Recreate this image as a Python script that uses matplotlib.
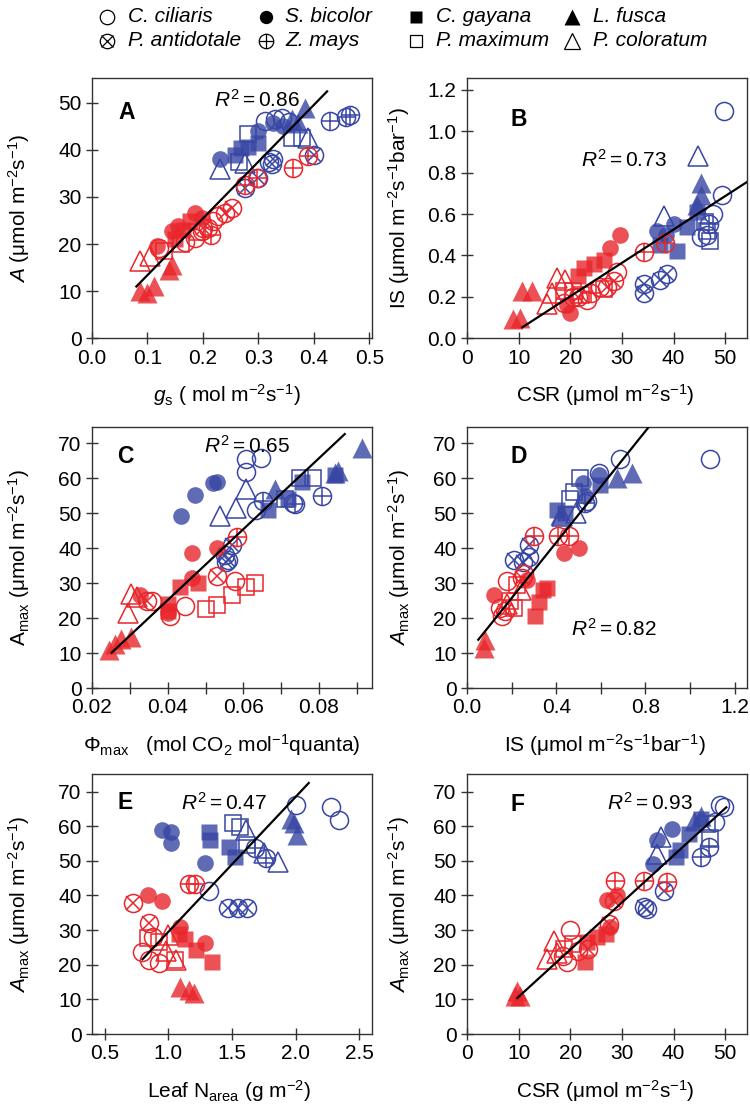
import numpy as np
import matplotlib
matplotlib.use("Agg")
import matplotlib.pyplot as plt

plt.rcParams['font.family'] = ['Liberation Sans', 'DejaVu Sans']
plt.rcParams['mathtext.fontset'] = 'custom'
plt.rcParams['mathtext.rm'] = 'Liberation Sans'
plt.rcParams['mathtext.it'] = 'Liberation Sans:italic'
plt.rcParams['mathtext.bf'] = 'Liberation Sans:bold'

RED = '#E8262B'
BLUE = '#3846A4'

# species codes and legend names
species = ['Cc', 'Sb', 'Cg', 'Lf', 'Pa', 'Zm', 'Pm', 'Pc']
names = {'Cc': 'C. ciliaris', 'Sb': 'S. bicolor', 'Cg': 'C. gayana', 'Lf': 'L. fusca',
         'Pa': 'P. antidotale', 'Zm': 'Z. mays', 'Pm': 'P. maximum', 'Pc': 'P. coloratum'}

# (species, condition r/b, x, y)
A_pts = [
    ('Lf','r',0.087,10.0),('Lf','r',0.099,9.7),('Lf','r',0.111,11.1),('Lf','r',0.138,14.6),('Lf','r',0.144,15.5),
    ('Pc','r',0.087,16.5),('Pc','r',0.105,17.5),
    ('Sb','r',0.118,19.5),('Sb','r',0.145,22.7),('Sb','r',0.155,23.8),('Sb','r',0.186,26.5),('Sb','r',0.198,25.6),
    ('Cg','r',0.150,21.0),('Cg','r',0.165,23.0),('Cg','r',0.176,24.8),
    ('Pm','r',0.130,18.5),('Pm','r',0.160,20.0),('Pm','r',0.190,22.5),
    ('Cc','r',0.120,19.2),('Cc','r',0.168,20.5),('Cc','r',0.186,21.3),('Cc','r',0.198,22.7),('Cc','r',0.210,23.5),
    ('Cc','r',0.219,24.9),('Cc','r',0.228,25.9),
    ('Pa','r',0.200,23.5),('Pa','r',0.240,26.6),('Pa','r',0.252,27.7),
    ('Zm','r',0.215,22.0),('Zm','r',0.276,32.5),('Zm','r',0.297,34.1),('Zm','r',0.363,36.2),('Zm','r',0.390,38.7),
    ('Sb','b',0.231,38.0),('Sb','b',0.300,44.0),('Sb','b',0.327,45.7),('Sb','b',0.345,45.0),
    ('Pc','b',0.231,36.0),('Pc','b',0.276,37.3),('Pc','b',0.390,42.6),
    ('Cg','b',0.258,39.0),('Cg','b',0.268,40.3),('Cg','b',0.282,40.6),('Cg','b',0.300,41.5),
    ('Pm','b',0.282,43.3),('Pm','b',0.360,42.6),('Pm','b',0.378,42.6),('Pm','b',0.265,37.5),
    ('Cc','b',0.312,46.2),('Cc','b',0.330,46.5),('Cc','b',0.342,46.8),('Cc','b',0.355,46.0),('Cc','b',0.320,37.5),
    ('Lf','b',0.384,48.9),('Lf','b',0.372,45.7),('Lf','b',0.360,46.5),
    ('Pa','b',0.276,32.0),('Pa','b',0.300,34.0),('Pa','b',0.327,38.0),('Pa','b',0.324,36.9),('Pa','b',0.400,39.0),
    ('Zm','b',0.429,46.2),('Zm','b',0.458,47.0),('Zm','b',0.465,47.5),
]

B_pts = [
    ('Lf','r',10.6,0.227),('Lf','r',12.6,0.227),('Lf','r',9.0,0.095),('Lf','r',10.3,0.10),
    ('Pc','r',15.5,0.165),('Pc','r',17.4,0.29),('Pc','r',19.0,0.28),('Pc','r',16.5,0.22),
    ('Sb','r',29.7,0.50),('Sb','r',27.7,0.435),('Sb','r',20.0,0.122),('Sb','r',19.3,0.16),
    ('Cg','r',22.6,0.34),('Cg','r',24.5,0.36),('Cg','r',26.5,0.38),('Cg','r',21.5,0.30),
    ('Pm','r',18.7,0.227),('Pm','r',20.6,0.227),('Pm','r',26.5,0.24),('Pm','r',22.0,0.21),
    ('Cc','r',18.7,0.17),('Cc','r',23.2,0.186),('Cc','r',25.8,0.25),('Cc','r',29.0,0.32),('Cc','r',20.5,0.20),
    ('Pa','r',27.1,0.25),('Pa','r',28.4,0.275),('Pa','r',21.5,0.20),
    ('Zm','r',34.2,0.415),('Zm','r',38.4,0.46),('Zm','r',24.0,0.22),
    ('Cc','b',49.7,1.097),('Cc','b',49.4,0.69),('Cc','b',47.7,0.60),('Cc','b',45.2,0.49),('Cc','b',46.5,0.50),
    ('Pc','b',44.8,0.88),('Pc','b',38.1,0.59),
    ('Lf','b',45.2,0.75),('Lf','b',45.2,0.69),('Lf','b',44.5,0.645),
    ('Cg','b',44.5,0.61),('Cg','b',40.6,0.42),('Cg','b',37.4,0.45),('Cg','b',42.5,0.54),
    ('Sb','b',36.8,0.52),('Sb','b',40.0,0.55),('Sb','b',38.5,0.50),
    ('Pm','b',46.5,0.52),('Pm','b',47.1,0.47),('Pm','b',46.0,0.56),
    ('Pa','b',34.2,0.26),('Pa','b',34.2,0.22),('Pa','b',37.4,0.28),('Pa','b',38.7,0.31),
    ('Zm','b',46.8,0.55),
]

C_pts = [
    ('Lf','r',0.0245,11.0),('Lf','r',0.0276,14.0),('Lf','r',0.0302,14.5),('Lf','r',0.0262,12.5),
    ('Pc','r',0.0302,27.0),('Pc','r',0.0294,21.3),('Pc','r',0.0320,26.0),
    ('Sb','r',0.0327,26.5),('Sb','r',0.0402,21.3),('Sb','r',0.0464,38.5),('Sb','r',0.0530,40.0),('Sb','r',0.0464,31.5),
    ('Pa','r',0.0345,25.0),('Pa','r',0.0530,32.0),
    ('Cc','r',0.0358,25.0),('Cc','r',0.0446,23.5),('Cc','r',0.0579,30.5),('Cc','r',0.0406,20.5),
    ('Cg','r',0.0400,24.0),('Cg','r',0.0432,28.8),('Cg','r',0.0480,30.0),('Cg','r',0.0400,22.0),
    ('Pm','r',0.0502,22.5),('Pm','r',0.0530,23.7),('Pm','r',0.0569,26.5),('Pm','r',0.0608,28.8),('Pm','r',0.0630,30.0),
    ('Zm','r',0.0584,43.2),
    ('Pa','b',0.0551,38.0),('Pa','b',0.0560,36.6),('Pa','b',0.0569,41.0),('Pa','b',0.0555,36.0),
    ('Sb','b',0.0436,49.2),('Sb','b',0.0472,55.3),('Sb','b',0.0520,58.5),('Sb','b',0.0530,59.0),
    ('Pc','b',0.0537,49.3),('Pc','b',0.0581,51.5),('Pc','b',0.0607,57.0),
    ('Cc','b',0.0606,65.5),('Cc','b',0.0606,61.8),('Cc','b',0.0646,65.8),('Cc','b',0.0633,50.8),('Cc','b',0.0730,53.0),
    ('Zm','b',0.0652,53.5),('Zm','b',0.0807,54.8),('Zm','b',0.0737,52.5),
    ('Cg','b',0.0666,51.0),('Cg','b',0.0719,54.0),('Cg','b',0.0755,59.0),('Cg','b',0.0843,61.0),
    ('Pm','b',0.0750,60.0),('Pm','b',0.0785,60.0),('Pm','b',0.0710,54.0),
    ('Lf','b',0.0684,57.0),('Lf','b',0.0843,61.5),('Lf','b',0.0914,68.5),('Lf','b',0.0850,62.0),
]

D_pts = [
    ('Lf','r',0.082,13.8),('Lf','r',0.075,11.5),
    ('Sb','r',0.433,38.5),('Sb','r',0.500,40.0),('Sb','r',0.119,26.5),('Sb','r',0.269,30.8),
    ('Cc','r',0.179,30.5),('Cc','r',0.157,20.5),('Cc','r',0.254,32.5),('Cc','r',0.150,23.0),
    ('Cg','r',0.358,28.5),('Cg','r',0.321,24.5),('Cg','r',0.306,20.5),('Cg','r',0.340,28.0),
    ('Pm','r',0.224,29.5),('Pm','r',0.194,25.0),('Pm','r',0.209,23.0),
    ('Pc','r',0.240,28.0),('Pc','r',0.180,24.0),
    ('Pa','r',0.246,31.5),('Pa','r',0.170,22.0),
    ('Zm','r',0.299,43.5),('Zm','r',0.410,43.5),('Zm','r',0.455,43.5),
    ('Pa','b',0.209,36.5),('Pa','b',0.276,37.5),('Pa','b',0.276,41.0),('Pa','b',0.250,36.0),
    ('Cc','b',1.090,65.5),('Cc','b',0.687,65.5),('Cc','b',0.590,61.5),('Cc','b',0.540,53.5),
    ('Lf','b',0.739,61.5),('Lf','b',0.672,60.0),('Lf','b',0.418,49.5),
    ('Sb','b',0.590,61.0),('Sb','b',0.522,58.5),('Sb','b',0.530,55.0),
    ('Pm','b',0.507,60.0),('Pm','b',0.463,54.0),('Pm','b',0.480,56.0),
    ('Cg','b',0.403,50.8),('Cg','b',0.597,57.9),('Cg','b',0.440,50.0),
    ('Pc','b',0.425,49.3),('Pc','b',0.490,50.0),
    ('Zm','b',0.530,53.0),
]

E_pts = [
    ('Cc','b',2.00,66.0),('Cc','b',2.276,65.5),('Cc','b',2.342,61.8),('Cc','b',1.32,41.2),
    ('Lf','b',1.96,62.0),('Lf','b',1.99,60.8),('Lf','b',2.01,57.5),
    ('Pc','b',1.61,58.9),('Pc','b',1.75,52.2),('Pc','b',1.86,49.8),
    ('Pm','b',1.51,60.8),('Pm','b',1.56,59.9),('Pm','b',1.62,54.6),
    ('Cg','b',1.32,58.4),('Cg','b',1.33,56.0),('Cg','b',1.48,54.1),('Cg','b',1.52,51.2),
    ('Zm','b',1.68,53.6),('Zm','b',1.77,50.7),
    ('Sb','b',0.95,58.9),('Sb','b',1.02,58.4),('Sb','b',1.02,55.1),('Sb','b',1.29,49.3),
    ('Pa','b',1.47,36.3),('Pa','b',1.55,36.3),('Pa','b',1.62,36.3),
    ('Pa','r',0.72,37.8),('Pa','r',0.85,32.0),
    ('Zm','r',1.16,43.2),('Zm','r',1.21,43.2),
    ('Sb','r',0.84,40.2),('Sb','r',0.95,38.3),('Sb','r',1.09,31.0),('Sb','r',1.29,26.3),
    ('Cc','r',0.79,23.8),('Cc','r',0.85,21.4),('Cc','r',0.93,20.5),('Cc','r',0.88,28.0),
    ('Pm','r',0.84,27.6),('Pm','r',0.93,26.6),('Pm','r',1.05,21.5),
    ('Pc','r',1.00,28.6),('Pc','r',1.06,21.4),('Pc','r',0.98,24.0),
    ('Cg','r',1.13,27.5),('Cg','r',1.22,24.3),('Cg','r',1.34,20.9),('Cg','r',1.08,29.0),
    ('Lf','r',1.09,13.6),('Lf','r',1.16,12.7),('Lf','r',1.20,11.7),
]

F_pts = [
    ('Lf','r',9.7,12.5),('Lf','r',10.3,11.1),('Lf','r',9.2,11.0),
    ('Pc','r',15.5,21.7),('Pc','r',16.8,26.9),('Pc','r',17.5,23.5),
    ('Cc','r',20.0,30.1),('Cc','r',19.4,20.8),('Cc','r',18.5,22.5),('Cc','r',21.5,24.0),
    ('Pm','r',18.7,24.6),('Pm','r',20.5,26.0),
    ('Cg','r',22.9,20.7),('Cg','r',23.2,26.5),('Cg','r',25.2,27.9),('Cg','r',27.0,29.0),
    ('Pa','r',23.5,24.5),('Pa','r',27.4,31.8),('Pa','r',28.4,38.3),
    ('Sb','r',27.1,38.8),('Sb','r',29.0,40.2),('Sb','r',27.7,30.8),
    ('Zm','r',28.7,44.3),('Zm','r',34.2,44.3),('Zm','r',38.7,43.8),
    ('Pa','b',34.2,36.6),('Pa','b',34.8,36.1),('Pa','b',38.1,41.4),
    ('Sb','b',36.8,55.9),('Sb','b',39.7,59.3),('Sb','b',36.1,49.2),
    ('Pc','b',36.8,52.0),('Pc','b',37.5,57.0),
    ('Cg','b',41.3,53.0),('Cg','b',42.9,57.8),('Cg','b',45.2,62.0),('Cg','b',40.5,51.0),
    ('Lf','b',45.2,63.1),('Lf','b',44.0,61.5),
    ('Pm','b',46.5,60.7),('Pm','b',47.0,56.5),
    ('Zm','b',45.2,51.1),('Zm','b',46.8,54.0),
    ('Cc','b',49.0,66.0),('Cc','b',49.7,65.5),('Cc','b',48.0,61.2),
]

# regression lines: intercept, slope, x start, x end
A_fit = (1.37, 120.4, 0.08, 0.424)
B_fit = (-0.1197, 0.01614, 10.7, 54.5)
C_fit = (-15.47, 1014.6, 0.0252, 0.0868)
D_fit = (9.77, 79.6, 0.0506, 0.815)
E_fit = (-9.46, 38.97, 0.797, 2.103)
F_fit = (-2.85, 1.361, 9.73, 50.2)

r2_vals = ['0.86', '0.73', '0.65', '0.82', '0.47', '0.93']

styles = {
    'Cc': dict(marker='o', filled=False, ms=13),
    'Sb': dict(marker='o', filled=True, ms=12),
    'Cg': dict(marker='s', filled=True, ms=11),
    'Lf': dict(marker='^', filled=True, ms=14.5),
    'Pa': dict(marker='o', filled=False, ms=13, extra='x'),
    'Zm': dict(marker='o', filled=False, ms=13, extra='+'),
    'Pm': dict(marker='s', filled=False, ms=11),
    'Pc': dict(marker='^', filled=False, ms=14.5),
}


def draw_marker(ax, xs, ys, sp, color, alpha=0.8, scale=1.0, z=3, mew=1.1):
    st = styles[sp]
    ms = st['ms'] * scale
    if st['filled']:
        ax.plot(xs, ys, ls='none', marker=st['marker'], ms=ms, mfc=color, mec='none',
                alpha=alpha, zorder=z, clip_on=False)
    else:
        ax.plot(xs, ys, ls='none', marker=st['marker'], ms=ms, mfc='none', mec=color,
                mew=mew, zorder=z, clip_on=False)
    if 'extra' in st:
        k = 0.8 if st['extra'] == 'x' else 1.0
        ax.plot(xs, ys, ls='none', marker=st['extra'], ms=ms * k, mec=color,
                mew=mew, zorder=z, clip_on=False)


def draw_points(ax, pts):
    for cond, col in [('b', BLUE), ('r', RED)]:
        for sp in species:
            xs = [p[2] for p in pts if p[0] == sp and p[1] == cond]
            ys = [p[3] for p in pts if p[0] == sp and p[1] == cond]
            if xs:
                draw_marker(ax, xs, ys, sp, col)


def draw_fit(ax, fit):
    b0, b1, x0, x1 = fit
    xx = np.array([x0, x1])
    ax.plot(xx, b0 + b1 * xx, color='black', lw=1.6, zorder=5)


fig = plt.figure(figsize=(7.5, 11.06), dpi=100)

W = 280 / 750
lefts = [92 / 750, 467 / 750]
rows = [(78.3, 338.3), (426.7, 688), (774.3, 1034)]
axes = []
for top, bot in rows:
    for l in lefts:
        axes.append(fig.add_axes([l, 1 - bot / 1106, W, (bot - top) / 1106]))
axA, axB, axC, axD, axE, axF = axes

FS = 15
for ax in axes:
    for s in ax.spines.values():
        s.set_color('#333333')
        s.set_linewidth(1.0)
    ax.tick_params(direction='inout', length=9, width=1.0, color='#333333',
                   labelsize=FS, pad=3)
    ax.tick_params(which='minor', direction='inout', length=9, width=1.0, color='#333333')

# A
draw_points(axA, A_pts)
draw_fit(axA, A_fit)
axA.set_xlim(0, 0.505)
axA.set_ylim(0, 55.2)
axA.set_xticks(np.arange(0, 0.51, 0.1))
axA.set_xticklabels(['0.0', '0.1', '0.2', '0.3', '0.4', '0.5'])
axA.set_yticks(np.arange(0, 51, 10))
axA.set_xlabel(r'$g_{\rm s}$ ( mol m$^{-2}$s$^{-1}$)', fontsize=FS)
axA.set_ylabel(r'$A$ (μmol m$^{-2}$s$^{-1}$)', fontsize=FS)

# B
draw_points(axB, B_pts)
draw_fit(axB, B_fit)
axB.set_xlim(0, 54.2)
axB.set_ylim(0, 1.256)
axB.set_xticks(np.arange(0, 51, 10))
axB.set_yticks(np.arange(0, 1.21, 0.2))
axB.set_yticklabels(['%.1f' % v for v in np.arange(0, 1.21, 0.2)])
axB.set_xlabel(r'CSR (μmol m$^{-2}$s$^{-1}$)', fontsize=FS)
axB.set_ylabel(r'IS (μmol m$^{-2}$s$^{-1}$bar$^{-1}$)', fontsize=FS)

# C
draw_points(axC, C_pts)
draw_fit(axC, C_fit)
axC.set_xlim(0.02, 0.094)
axC.set_ylim(0, 74.7)
axC.set_xticks([0.02, 0.04, 0.06, 0.08])
axC.set_xticklabels(['0.02', '0.04', '0.06', '0.08'])
axC.set_xticks([0.03, 0.05, 0.07, 0.09], minor=True)
axC.set_yticks(np.arange(0, 71, 10))
axC.set_xlabel(r'$\Phi_{\rm max}$   (mol CO$_2$ mol$^{-1}$quanta)', fontsize=FS)
axC.set_ylabel(r'A$_{\rm max}$ (μmol m$^{-2}$s$^{-1}$)', fontsize=FS)

# D
draw_points(axD, D_pts)
draw_fit(axD, D_fit)
axD.set_xlim(0, 1.255)
axD.set_ylim(0, 74.7)
axD.set_xticks([0, 0.4, 0.8, 1.2])
axD.set_xticklabels(['0.0', '0.4', '0.8', '1.2'])
axD.set_xticks([0.2, 0.6, 1.0], minor=True)
axD.set_yticks(np.arange(0, 71, 10))
axD.set_xlabel(r'IS (μmol m$^{-2}$s$^{-1}$bar$^{-1}$)', fontsize=FS)
axD.set_ylabel(r'$A_{\rm max}$ (μmol m$^{-2}$s$^{-1}$)', fontsize=FS)

# E
draw_points(axE, E_pts)
draw_fit(axE, E_fit)
axE.set_xlim(0.4, 2.6)
axE.set_ylim(0, 75)
axE.set_xticks([0.5, 1.0, 1.5, 2.0, 2.5])
axE.set_xticklabels(['0.5', '1.0', '1.5', '2.0', '2.5'])
axE.set_yticks(np.arange(0, 71, 10))
axE.set_xlabel(r'Leaf N$_{\rm area}$ (g m$^{-2}$)', fontsize=FS)
axE.set_ylabel(r'$A_{\rm max}$ (μmol m$^{-2}$s$^{-1}$)', fontsize=FS)

# F
draw_points(axF, F_pts)
draw_fit(axF, F_fit)
axF.set_xlim(0, 54.2)
axF.set_ylim(0, 75)
axF.set_xticks(np.arange(0, 51, 10))
axF.set_yticks(np.arange(0, 71, 10))
axF.set_xlabel(r'CSR (μmol m$^{-2}$s$^{-1}$)', fontsize=FS)
axF.set_ylabel(r'$A_{\rm max}$ (μmol m$^{-2}$s$^{-1}$)', fontsize=FS)

# label placement
xl_x = [0.48, 0.493, 0.464, 0.493, 0.49, 0.493]
for i, ax in enumerate(axes):
    ax.xaxis.set_label_coords(xl_x[i], -0.17)
    ax.yaxis.set_label_coords(-0.215 if i % 2 == 0 else -0.198, 0.5)

letters = ['A', 'B', 'C', 'D', 'E', 'F']
let_pos = [(0.125, 0.87), (0.185, 0.84), (0.118, 0.885), (0.185, 0.885), (0.118, 0.89), (0.18, 0.885)]
r2_pos = [(0.59, 0.917), (0.56, 0.686), (0.553, 0.926), (0.524, 0.227), (0.47, 0.89), (0.655, 0.89)]
for i, ax in enumerate(axes):
    ax.text(*let_pos[i], letters[i], transform=ax.transAxes, fontsize=16.5,
            fontweight='bold', ha='center', va='center', zorder=6)
    ax.text(*r2_pos[i], r'$R^2 = $' + r2_vals[i], transform=ax.transAxes, fontsize=FS,
            ha='center', va='center', zorder=6)

# legend at top
leg = fig.add_axes([0, 1 - 60 / 1106, 1, 60 / 1106])
leg.set_xlim(0, 750)
leg.set_ylim(60, 0)
leg.axis('off')
leg_order = ['Cc', 'Sb', 'Cg', 'Lf', 'Pa', 'Zm', 'Pm', 'Pc']
leg_mx = [107, 266, 416, 572, 107, 266, 416, 572]
leg_tx = [128, 285, 436, 593, 128, 285, 436, 593]
leg_y = [17, 17, 17, 17, 41, 41, 41, 41]
for sp, mx, tx, y in zip(leg_order, leg_mx, leg_tx, leg_y):
    draw_marker(leg, [mx], [y], sp, 'black', alpha=1.0, scale=0.8, mew=0.9)
    leg.text(tx, y, names[sp], fontsize=FS, style='italic', ha='left', va='center')

fig.savefig('out.png', dpi=100)
